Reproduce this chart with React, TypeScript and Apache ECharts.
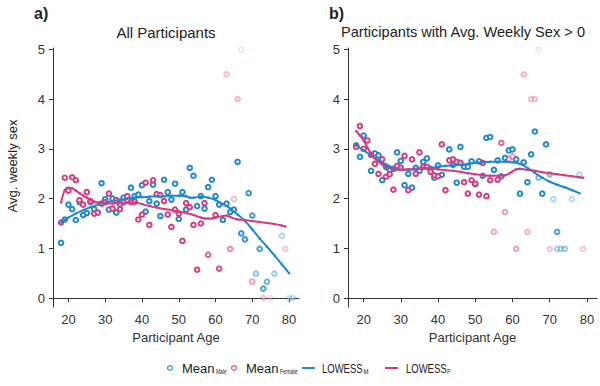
import React, { useEffect, useRef } from "react";
import * as echarts from "echarts";

const xTicks = [20, 30, 40, 50, 60, 70, 80];
const yTicks = [0, 1, 2, 3, 4, 5];

// [age, mean, opacity]
const allMale: number[][] = [
  [18, 1.11, 1], [19, 1.58, 1], [20, 1.88, 1], [21, 1.79, 1], [22, 1.57, 1], [23, 1.93, 1], [24, 1.67, 1], [25, 1.71, 1],
  [26, 1.93, 1], [27, 1.79, 1], [29, 2.31, 1], [30, 1.99, 1], [31, 1.78, 1], [32, 2.0, 1], [33, 1.72, 1], [34, 1.89, 1],
  [35, 2.02, 1], [37, 2.22, 1], [38, 2.05, 1], [39, 2.08, 1], [40, 2.27, 1], [41, 1.74, 1], [42, 1.95, 1], [43, 2.28, 1],
  [44, 1.9, 1], [45, 1.65, 1], [46, 2.38, 1], [47, 2.13, 1], [48, 1.98, 1], [49, 2.3, 1], [50, 1.59, 1], [51, 2.13, 1],
  [52, 1.78, 1], [53, 2.62, 1], [54, 2.46, 1], [55, 1.85, 1], [56, 2.05, 1], [57, 1.8, 1], [58, 2.23, 1], [59, 2.38, 1],
  [60, 2.05, 1], [61, 1.88, 1], [62, 1.57, 1], [63, 1.9, 1], [64, 1.73, 1], [65, 1.78, 1], [66, 2.74, 1], [67, 1.3, 0.9],
  [68, 1.18, 0.9], [69, 2.11, 0.9], [70, 1.66, 0.85], [71, 0.49, 0.5], [72, 0.99, 0.8], [73, 0.19, 0.8], [74, 0.33, 0.65],
  [76, 0.49, 0.45], [78, 1.25, 0.35], [80, 0, 0.25], [81, 0, 0.3],
];
const allFemale: number[][] = [
  [18, 1.52, 1], [19, 2.42, 1], [20, 2.16, 1], [21, 2.43, 1], [22, 2.37, 1], [23, 1.97, 1], [24, 1.88, 1], [25, 2.13, 1],
  [26, 1.95, 1], [27, 1.7, 1], [28, 1.72, 1], [29, 1.9, 1], [30, 1.93, 1], [31, 2.1, 1], [32, 1.8, 1], [33, 1.97, 1],
  [34, 1.79, 1], [35, 1.93, 1], [36, 2.05, 1], [37, 1.93, 1], [38, 1.94, 1], [39, 1.58, 1], [40, 1.68, 1], [41, 2.32, 1],
  [42, 1.47, 1], [43, 2.37, 1], [44, 2.09, 1], [45, 2.07, 1], [46, 1.95, 1], [47, 1.68, 1], [48, 1.43, 1], [49, 1.78, 1],
  [50, 1.7, 1], [51, 1.15, 1], [52, 1.91, 1], [53, 1.83, 1], [54, 1.47, 1], [55, 0.57, 1], [56, 1.5, 1], [57, 1.91, 1],
  [58, 0.87, 0.8], [60, 1.67, 1], [61, 0.59, 0.9], [63, 4.5, 0.35], [64, 0.99, 0.6], [65, 1.99, 0.35], [66, 4.0, 0.4],
  [67, 5.0, 0.15], [70, 0.33, 0.5], [73, 0, 0.3], [75, 0, 0.2], [79, 0.99, 0.3],
];
const allLowessM: number[][] = [
  [18, 1.52], [19, 1.57], [20, 1.62], [22, 1.7], [24, 1.77], [26, 1.83], [28, 1.88], [30, 1.92], [32, 1.95], [34, 1.98],
  [36, 2.0], [38, 2.02], [40, 2.03], [42, 2.04], [44, 2.05], [46, 2.05], [48, 2.06], [50, 2.06], [52, 2.05], [53, 2.02],
  [54, 2.02], [56, 2.04], [58, 2.02], [60, 1.97], [62, 1.89], [64, 1.8], [66, 1.68], [68, 1.55], [70, 1.38], [72, 1.2],
  [74, 1.03], [76, 0.86], [78, 0.68], [80, 0.5],
];
const allLowessF: number[][] = [
  [18, 1.92], [19, 2.17], [20, 2.22], [21, 2.21], [22, 2.16], [23, 2.11], [24, 2.06], [25, 2.02], [26, 1.98], [27, 1.94],
  [28, 1.92], [30, 1.9], [32, 1.9], [34, 1.91], [36, 1.92], [38, 1.92], [40, 1.89], [42, 1.85], [44, 1.82], [46, 1.79],
  [48, 1.77], [50, 1.74], [52, 1.71], [54, 1.67], [56, 1.62], [57, 1.6], [58, 1.6], [59, 1.6], [60, 1.62], [62, 1.65],
  [63, 1.66], [64, 1.63], [66, 1.58], [68, 1.57], [70, 1.55], [72, 1.53], [74, 1.51], [76, 1.49], [78, 1.46], [79, 1.44],
];

const posMale: number[][] = [
  [18, 3.07, 1], [19, 2.84, 1], [20, 3.27, 1], [22, 2.56, 1], [23, 2.91, 1], [24, 2.87, 1], [25, 2.37, 1], [26, 2.64, 1],
  [27, 2.57, 1], [28, 2.6, 1], [29, 2.93, 1], [30, 2.76, 1], [31, 2.27, 1], [32, 2.5, 1], [33, 2.22, 1], [34, 2.62, 1],
  [35, 2.56, 1], [36, 2.74, 1], [37, 2.81, 1], [38, 2.6, 1], [39, 2.42, 1], [40, 2.67, 1], [41, 2.48, 1], [43, 2.99, 1],
  [44, 2.68, 1], [45, 2.32, 1], [46, 3.04, 1], [47, 2.64, 1], [48, 2.64, 1], [49, 2.75, 1], [50, 2.29, 1], [51, 2.75, 1],
  [52, 2.46, 1], [53, 3.22, 1], [54, 3.24, 1], [55, 2.58, 1], [56, 2.77, 1], [57, 2.45, 1], [58, 2.82, 1], [59, 2.97, 1],
  [60, 2.99, 1], [61, 2.79, 1], [62, 2.1, 1], [63, 2.73, 1], [64, 2.33, 1], [65, 2.89, 1], [66, 3.35, 1], [67, 2.42, 0.6],
  [68, 2.1, 1], [69, 3.09, 1], [70, 2.49, 0.6], [71, 1.99, 0.35], [72, 1.33, 0.8], [72, 0.99, 0.4], [73, 0.99, 0.4],
  [74, 0.99, 0.5], [76, 1.99, 0.3], [78, 2.49, 0.35],
];
const posFemale: number[][] = [
  [18, 3.04, 1], [19, 3.46, 1], [20, 3.0, 1], [21, 3.17, 1], [22, 2.88, 1], [23, 2.7, 1], [24, 2.5, 1], [25, 2.79, 1],
  [26, 2.44, 1], [27, 2.49, 1], [28, 2.18, 1], [29, 2.66, 1], [30, 2.62, 1], [31, 2.86, 1], [32, 2.17, 1], [33, 2.79, 1],
  [34, 2.5, 1], [35, 2.93, 1], [36, 2.64, 1], [37, 2.64, 1], [38, 2.54, 1], [39, 2.47, 1], [40, 2.45, 1], [41, 3.09, 1],
  [42, 2.17, 1], [43, 2.77, 1], [44, 2.79, 1], [45, 2.74, 1], [46, 2.72, 1], [47, 2.33, 1], [48, 2.1, 1], [49, 2.37, 1],
  [50, 2.3, 1], [51, 2.08, 1], [52, 2.72, 1], [53, 2.05, 1], [54, 2.37, 1], [55, 1.33, 0.45], [56, 2.38, 1], [57, 3.12, 0.8],
  [58, 1.73, 0.5], [59, 2.8, 0.5], [60, 2.85, 0.5], [61, 0.99, 0.5], [63, 4.5, 0.4], [64, 1.33, 0.4], [65, 4.0, 0.35],
  [66, 4.0, 0.35], [67, 5.0, 0.15], [70, 0.99, 0.3], [79, 0.99, 0.3],
];
const posLowessM: number[][] = [
  [18, 3.07], [20, 2.97], [22, 2.87], [24, 2.77], [26, 2.69], [28, 2.62], [30, 2.58], [32, 2.58], [34, 2.59], [36, 2.61],
  [38, 2.62], [40, 2.64], [42, 2.66], [44, 2.67], [46, 2.68], [48, 2.7], [50, 2.72], [52, 2.73], [54, 2.74], [56, 2.74],
  [58, 2.74], [60, 2.73], [62, 2.7], [64, 2.62], [66, 2.52], [68, 2.42], [70, 2.34], [72, 2.28], [74, 2.23], [76, 2.17],
  [78, 2.11],
];
const posLowessF: number[][] = [
  [18, 3.36], [19, 3.27], [20, 3.17], [21, 3.03], [22, 2.9], [23, 2.81], [24, 2.74], [25, 2.69], [26, 2.64], [28, 2.59],
  [30, 2.58], [32, 2.59], [34, 2.6], [36, 2.62], [38, 2.61], [40, 2.59], [42, 2.57], [44, 2.56], [46, 2.54], [48, 2.51],
  [50, 2.49], [52, 2.47], [54, 2.46], [56, 2.46], [58, 2.47], [59, 2.5], [60, 2.55], [61, 2.59], [62, 2.6], [64, 2.58],
  [66, 2.56], [68, 2.53], [70, 2.51], [72, 2.49], [74, 2.47], [76, 2.45], [78, 2.43], [79, 2.42],
];

const BLUE = "#1e88d0";
const PINK = "#d63b7f";
const FONT = "Liberation Sans, Arial, sans-serif";
const AXIS = "#333";

function scatter(data: number[][], color: string, idx: number) {
  return {
    type: "scatter",
    xAxisIndex: idx,
    yAxisIndex: idx,
    symbol: "emptyCircle",
    symbolSize: 4.6,
    itemStyle: { color, borderColor: color, borderWidth: 1.1 },
    data: data.map((d) => ({ value: [d[0], d[1]], itemStyle: { opacity: d[2] } })),
    z: 2,
  };
}
function lowess(data: number[][], color: string, idx: number) {
  return {
    type: "line",
    xAxisIndex: idx,
    yAxisIndex: idx,
    smooth: 0.3,
    symbol: "circle",
    symbolSize: 2.5,
    showSymbol: true,
    itemStyle: { color },
    lineStyle: { color, width: 2 },
    data,
    z: 3,
  };
}
function xAxis(idx: number) {
  return {
    type: "value",
    gridIndex: idx,
    min: 15.8,
    max: 82.7,
    splitLine: { show: false },
    axisLine: { show: true, lineStyle: { color: AXIS, width: 1 } },
    axisTick: { show: true, customValues: xTicks, length: 4, lineStyle: { color: AXIS } },
    axisLabel: { customValues: xTicks, fontSize: 13, color: AXIS, fontFamily: FONT, margin: 6 },
    name: "Participant Age",
    nameLocation: "middle",
    nameGap: 18,
    nameTextStyle: { fontSize: 13, color: AXIS, fontFamily: FONT },
  };
}
function yAxis(idx: number) {
  return {
    type: "value",
    gridIndex: idx,
    min: -0.18,
    max: 5.03,
    splitLine: { show: false },
    axisLine: { show: true, lineStyle: { color: AXIS, width: 1 } },
    axisTick: { show: true, customValues: yTicks, length: 4, lineStyle: { color: AXIS } },
    axisLabel: { customValues: yTicks, fontSize: 13, color: AXIS, fontFamily: FONT, margin: 8 },
  };
}

const legendY = 368;
function txt(x: number, y: number, text: string, size: number, extra: any = {}, sx = 1) {
  return {
    type: "text",
    x,
    y,
    scaleX: sx,
    style: { text, fontSize: size, fill: "#222", fontFamily: FONT, textVerticalAlign: "middle", ...extra },
  };
}

const option: any = {
  animation: false,
  grid: [
    { left: 53, top: 48, width: 246, height: 259 },
    { left: 348, top: 48, width: 249, height: 259 },
  ],
  xAxis: [xAxis(0), xAxis(1)],
  yAxis: [yAxis(0), yAxis(1)],
  series: [
    scatter(allMale, BLUE, 0),
    scatter(allFemale, PINK, 0),
    lowess(allLowessM, BLUE, 0),
    lowess(allLowessF, PINK, 0),
    scatter(posMale, BLUE, 1),
    scatter(posFemale, PINK, 1),
    lowess(posLowessM, BLUE, 1),
    lowess(posLowessF, PINK, 1),
  ],
  graphic: [
    txt(34, 13, "a)", 16, { fontWeight: "bold" }),
    txt(166, 32, "All Participants", 15, { textAlign: "center" }),
    txt(329, 13, "b)", 16, { fontWeight: "bold" }),
    txt(463, 32, "Participants with Avg. Weekly Sex > 0", 14.6, { textAlign: "center" }),
    {
      type: "text",
      x: 12,
      y: 166,
      rotation: Math.PI / 2,
      style: { text: "Avg. weekly sex", fontSize: 13, fill: "#222", fontFamily: FONT, textAlign: "center", textVerticalAlign: "middle" },
    },
    { type: "circle", shape: { cx: 170, cy: legendY, r: 2.4 }, style: { fill: "none", stroke: BLUE, lineWidth: 1.1 } },
    txt(182, legendY, "Mean", 13),
    txt(216, legendY + 3, "Male", 8, {}, 0.62),
    { type: "circle", shape: { cx: 234, cy: legendY, r: 2.4 }, style: { fill: "none", stroke: PINK, lineWidth: 1.1 } },
    txt(246, legendY, "Mean", 13),
    txt(280, legendY + 3, "Female", 8, {}, 0.66),
    { type: "line", shape: { x1: 302, y1: legendY, x2: 315, y2: legendY }, style: { stroke: BLUE, lineWidth: 2 } },
    txt(322, legendY, "LOWESS", 13, {}, 0.73),
    txt(363.5, legendY + 3, "M", 8, {}, 0.75),
    { type: "line", shape: { x1: 385, y1: legendY, x2: 398, y2: legendY }, style: { stroke: PINK, lineWidth: 2 } },
    txt(406, legendY, "LOWESS", 13, {}, 0.73),
    txt(447, legendY + 3, "F", 8, {}, 0.8),
  ],
};

export default function App() {
  const ref = useRef<HTMLDivElement>(null);
  useEffect(() => {
    const chart = echarts.init(ref.current!, null, { renderer: "svg" });
    chart.setOption(option);
    return () => chart.dispose();
  }, []);
  return <div ref={ref} style={{ position: "absolute", left: 0, top: 0, width: 600, height: 386 }} />;
}
